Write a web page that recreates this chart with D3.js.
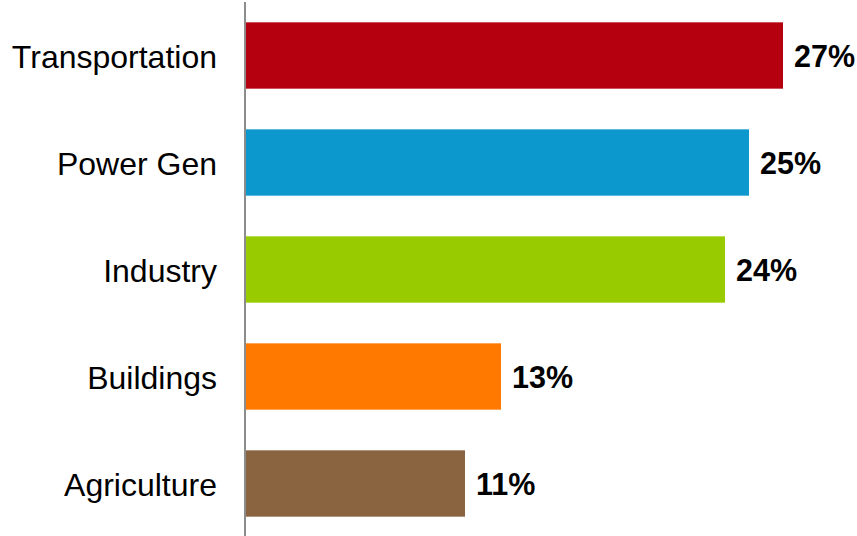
<!DOCTYPE html>
<html><head><meta charset="utf-8">
<script src="https://cdn.jsdelivr.net/npm/d3@7"></script>
<style>body{margin:0;background:#fff}svg{display:block}</style>
</head><body>
<svg id="c" width="857" height="536"></svg>
<script>
const categories = ["Transportation", "Power Gen", "Industry", "Buildings", "Agriculture"];
const values = [26.9, 25.2, 24.0, 12.8, 11.0];
const valueLabels = ["27%", "25%", "24%", "13%", "11%"];
const colors = ["#B50010", "#0C98CC", "#99CC00", "#FF7800", "#8A6340"];

const svg = d3.select("#c");
const x = d3.scaleLinear().domain([0, 30]).range([245, 845]);
const y = d3.scaleBand().domain(categories).range([2, 537]).paddingInner(0.38).paddingOuter(0.19);

svg.selectAll("rect.bar").data(categories).join("rect")
  .attr("class", "bar")
  .attr("x", x(0))
  .attr("y", d => y(d))
  .attr("width", (d, i) => x(values[i]) - x(0))
  .attr("height", y.bandwidth())
  .attr("fill", (d, i) => colors[i]);

svg.selectAll("text.val").data(categories).join("text")
  .attr("class", "val")
  .attr("x", (d, i) => x(values[i]) + 11)
  .attr("y", d => y(d) + y.bandwidth() / 2)
  .attr("dy", "0.38em")
  .attr("font-family", "Liberation Sans, Arial, sans-serif")
  .attr("font-weight", "bold")
  .attr("font-size", 30.5)
  .attr("fill", "#000")
  .text((d, i) => valueLabels[i]);

const axis = d3.axisLeft(y).tickSize(0).tickPadding(28);
const g = svg.append("g").attr("transform", `translate(${x(0)},0)`).call(axis);
g.select(".domain").attr("stroke", "#8c8c8c").attr("stroke-width", 2).attr("d", "M0,2V536");
g.selectAll(".tick text")
  .attr("dy", "0.38em")
  .attr("font-family", "Liberation Sans, Arial, sans-serif")
  .attr("font-size", 32)
  .attr("fill", "#000");
</script>
</body></html>
